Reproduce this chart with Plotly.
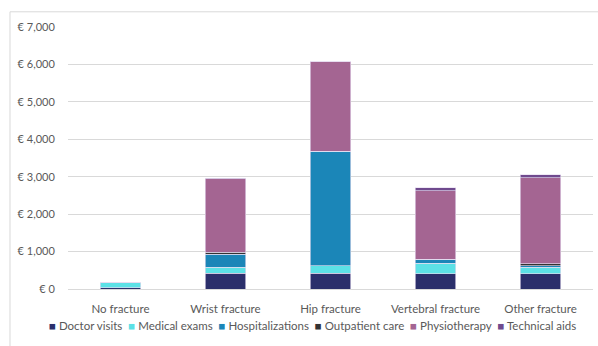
import plotly.graph_objects as go

categories = ["No fracture", "Wrist fracture", "Hip fracture", "Vertebral fracture", "Other fracture"]
doctor_visits = [30, 420, 420, 410, 410]
medical_exams = [140, 160, 195, 280, 175]
hospitalizations = [0, 350, 3070, 105, 30]
outpatient_care = [0, 50, 0, 0, 60]
physiotherapy = [0, 1960, 2385, 1835, 2300]
technical_aids = [0, 20, 0, 80, 80]

series_names = ["Doctor visits", "Medical exams", "Hospitalizations", "Outpatient care", "Physiotherapy", "Technical aids"]
series_values = [doctor_visits, medical_exams, hospitalizations, outpatient_care, physiotherapy, technical_aids]
series_colors = ["#2b2f6b", "#5ce1e6", "#1b86b8", "#333333", "#a46592", "#6f4a8e"]

tick_vals = [0, 1000, 2000, 3000, 4000, 5000, 6000, 7000]
tick_text = ["€ 0", "€ 1,000", "€ 2,000", "€ 3,000", "€ 4,000", "€ 5,000", "€ 6,000", "€ 7,000"]

fig = go.Figure()
for name, vals, color in zip(series_names, series_values, series_colors):
    fig.add_trace(go.Bar(
        name=name, x=categories, y=vals,
        marker=dict(color=color, line=dict(color="rgba(230,220,240,0.8)", width=0.8)),
    ))

legend_text = "&nbsp;&nbsp;".join(
    f'<span style="color:{c}">■</span>&nbsp;{n}' for n, c in zip(series_names, series_colors)
)

fig.update_layout(
    barmode="stack",
    bargap=0.61,
    width=598, height=346,
    margin=dict(l=68, r=5, t=27, b=57, autoexpand=False),
    paper_bgcolor="white", plot_bgcolor="white",
    font=dict(family="Lato, Open Sans, sans-serif", size=11, color="#595959"),
    showlegend=False,
    xaxis=dict(showgrid=False, showline=False, zeroline=False, ticks="outside",
               ticklen=9, tickcolor="rgba(0,0,0,0)",
               tickfont=dict(size=11.5, color="#595959")),
    yaxis=dict(range=[0, 7000], tickvals=tick_vals, ticktext=tick_text,
               showgrid=True, gridcolor="#d9d9d9", gridwidth=1, zeroline=True,
               zerolinecolor="#d9d9d9", zerolinewidth=1, showline=False,
               ticks="outside", ticklen=10, tickcolor="rgba(0,0,0,0)",
               tickfont=dict(size=11, color="#595959")),
    annotations=[dict(text=legend_text, xref="paper", yref="paper",
                      x=(312 - 68) / 525, y=(289 - 325) / 262,
                      xanchor="center", yanchor="middle", showarrow=False,
                      font=dict(size=11.5, color="#595959"))],
    shapes=[dict(type="rect", xref="paper", yref="paper",
                 x0=-0.1105, x1=1.03, y0=-0.25, y1=1.058,
                 line=dict(color="#d9d9d9", width=1), fillcolor="rgba(0,0,0,0)", layer="below")],
)

fig.write_html("out.html")
